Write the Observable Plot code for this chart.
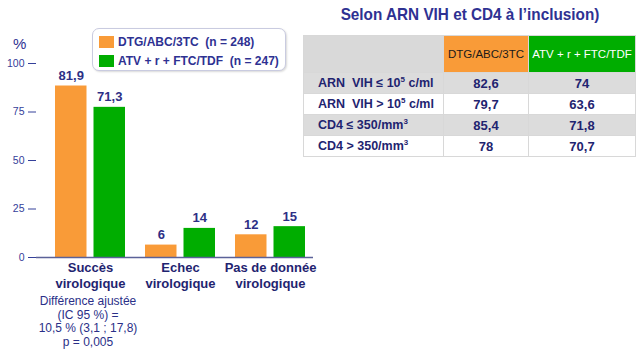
<!DOCTYPE html>
<html>
<head>
<meta charset="utf-8">
<script src="https://cdn.jsdelivr.net/npm/d3@7"></script>
<script src="https://cdn.jsdelivr.net/npm/@observablehq/plot@0.6"></script>
<style>
  html, body { margin: 0; padding: 0; background: #fff; }
  #wrap { position: relative; width: 640px; height: 351px; overflow: hidden; font-family: "Liberation Sans", Arial, sans-serif; }
  #wrap svg { position: absolute; left: 0; top: 0; }
  .abs { position: absolute; }
  #pct { left: 13px; top: 35px; font-size: 15px; color: #2e3192; }
  #legend { left: 92px; top: 28px; width: 192px; height: 41px; border: 1px solid #c9cbe0; border-radius: 7px; background: #fff; box-shadow: 1px 1px 2px rgba(0,0,0,0.15); }
  .lg-item { position: absolute; left: 6px; height: 13px; font-size: 12px; font-weight: bold; color: #2e3192; line-height: 13px; white-space: pre; }
  .lg-sw { display: inline-block; width: 15px; height: 12px; vertical-align: top; margin-right: 4px; }
  #note { left: 18px; top: 295px; width: 140px; text-align: center; font-size: 12px; line-height: 13.5px; color: #2a2f88; white-space: pre; }
  #title { left: 300px; top: 5px; width: 340px; text-align: center; font-weight: bold; font-size: 17px; color: #2e3192; white-space: nowrap; transform: scaleX(0.9); transform-origin: 170px 0; }
  #tbl { left: 303px; top: 35px; border-collapse: collapse; font-size: 13px; }
  #tbl td { border: 1px solid #d8d8d8; padding: 0; font-weight: bold; color: #1f2470; white-space: nowrap; }
  #tbl tr.head td { height: 36px; }
  #tbl tr.row td { height: 20px; }
  #tbl td.lab { padding-left: 14px; text-align: left; font-size: 12.5px; }
  #tbl td.num { text-align: center; }
</style>
</head>
<body>
<div id="wrap"></div>
<script>
// ---- Data ----
const categories = ["Succès virologique", "Echec virologique", "Pas de donnée virologique"];
const categoryTicks = ["Succès\nvirologique", "Echec\nvirologique", "Pas de donnée\nvirologique"];
const series = ["DTG/ABC/3TC", "ATV + r + FTC/TDF"];
const seriesLegend = ["DTG/ABC/3TC  (n = 248)", "ATV + r + FTC/TDF  (n = 247)"];
const colors = ["#F99B38", "#00AD00"];
// bar heights as drawn in the picture (%)
const dtgHeights = [88.4, 6.4, 11.7];
const atvHeights = [77.4, 15.0, 15.9];
// value labels as printed
const dtgLabels = ["81,9", "6", "12"];
const atvLabels = ["71,3", "14", "15"];
const yTicks = [0, 25, 50, 75, 100];
const noteLines = ["Différence ajustée", "(IC 95 %) =", "10,5 % (3,1 ; 17,8)", "p = 0,005"];

// table
const tableTitle = "Selon ARN VIH et CD4 à l’inclusion)";
const tableRows = ["ARN&nbsp; VIH ≤ 10<sup>5</sup> c/ml", "ARN&nbsp; VIH > 10<sup>5</sup> c/ml", "CD4 ≤ 350/mm<sup>3</sup>", "CD4 > 350/mm<sup>3</sup>"];
const tableDtg = ["82,6", "79,7", "85,4", "78"];
const tableAtv = ["74", "63,6", "71,8", "70,7"];

// ---- Build ----
const dtgData = categories.map((c, i) => ({cat: c, series: series[0], v: dtgHeights[i], label: dtgLabels[i]}));
const atvData = categories.map((c, i) => ({cat: c, series: series[1], v: atvHeights[i], label: atvLabels[i]}));
const tickMap = new Map(categories.map((c, i) => [c, categoryTicks[i]]));
const axisCol = "#5b6299";
// style: each bar fills a bit less than half of a category band
const half = 38.5, shift = 19.25;

const chart = Plot.plot({
  width: 640, height: 351,
  marginLeft: 36, marginRight: 327, marginTop: 63, marginBottom: 94,
  style: {background: "transparent", fontFamily: "Liberation Sans, Arial, sans-serif", overflow: "visible"},
  x: {domain: categories, paddingInner: 0.22, paddingOuter: 0.132, align: 0.71, label: null},
  y: {domain: [0, 100], label: null},
  color: {domain: series, range: colors},
  marks: [
    Plot.barY(dtgData, {x: "cat", y: "v", fill: "series", insetRight: half}),
    Plot.barY(atvData, {x: "cat", y: "v", fill: "series", insetLeft: half}),
    Plot.text(dtgData, {x: "cat", y: "v", text: "label", dx: -shift, dy: -6, lineAnchor: "bottom",
      fill: "#2d2f86", fontWeight: "bold", fontSize: 13}),
    Plot.text(atvData, {x: "cat", y: "v", text: "label", dx: shift, dy: -6, lineAnchor: "bottom",
      fill: "#2d2f86", fontWeight: "bold", fontSize: 13}),
    Plot.ruleY([0], {stroke: axisCol, strokeWidth: 1.5}),
    Plot.axisY({ticks: yTicks, tickSize: 8, tickPadding: 4, fontSize: 10.5, color: "#34409a", line: true, label: null}),
    Plot.axisX({anchor: "bottom", tickSize: 0, tickPadding: 3, tickFormat: d => tickMap.get(d),
      fontSize: 13, fontWeight: "bold", lineHeight: 1.22, fill: "#1f2470", label: null})
  ]
});
const wrap = document.getElementById("wrap");
wrap.appendChild(chart);

function addDiv(id, html) {
  const d = document.createElement("div");
  d.id = id; d.className = "abs"; d.innerHTML = html;
  wrap.appendChild(d); return d;
}
addDiv("pct", "%");
const lg = addDiv("legend", "");
seriesLegend.forEach((s, i) => {
  const it = document.createElement("div");
  it.className = "lg-item";
  it.style.top = (7 + i * 19) + "px";
  it.innerHTML = `<span class="lg-sw" style="background:${colors[i]}"></span>${s}`;
  lg.appendChild(it);
});
addDiv("note", noteLines.join("\n"));
addDiv("title", tableTitle);

const t = document.createElement("table");
t.id = "tbl"; t.className = "abs";
let h = `<colgroup><col style="width:140px"><col style="width:85px"><col style="width:107px"></colgroup>`;
h += `<tr class="head"><td style="background:#d9d9d9"></td>` +
     `<td class="num" style="background:${colors[0]};color:#1a1a1a;font-weight:normal;font-size:11.5px">${series[0]}</td>` +
     `<td class="num" style="background:${colors[1]};color:#fff;font-weight:normal;font-size:11.5px">${series[1]}</td></tr>`;
tableRows.forEach((r, i) => {
  const bg = i % 2 === 0 ? "#dcdcdc" : "#ffffff";
  h += `<tr class="row" style="background:${bg}"><td class="lab">${r.replace(/<sup>/g, '<sup style="font-size:8px;vertical-align:5px;line-height:0">')}</td>` +
       `<td class="num">${tableDtg[i]}</td><td class="num">${tableAtv[i]}</td></tr>`;
});
t.innerHTML = h;
wrap.appendChild(t);
</script>
</body>
</html>
